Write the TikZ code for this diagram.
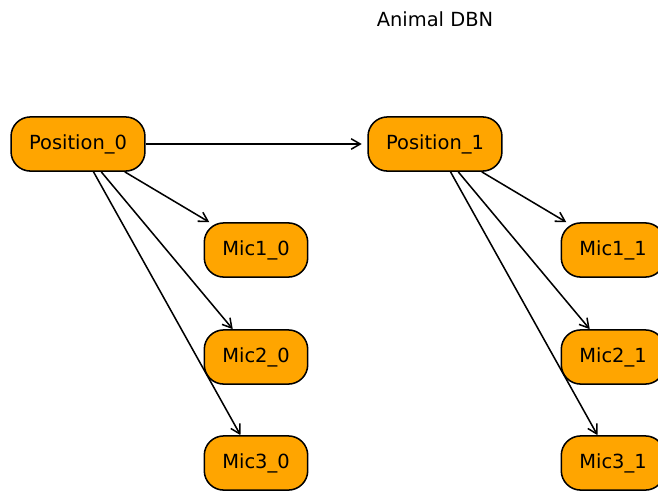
\documentclass[tikz,border=0pt]{standalone}
\usepackage{fontspec}
\setmainfont{DejaVu Sans}
\usepackage{xcolor}
\usetikzlibrary{arrows.meta, positioning}
\definecolor{nodeorange}{RGB}{255, 165, 0}
\tikzset{
    var/.style ={draw=black, line width=1.1pt, fill=nodeorange,
                 rounded corners=14pt, minimum height=39pt,
                 inner xsep=13pt, font=\fontsize{14}{16}\selectfont},
    ar/.style  ={-{Straight Barb[length=6.5pt, width=7.5pt]}, line width=1.1pt,
                 shorten >=0pt},
    ttl/.style ={font=\fontsize{14}{16}\selectfont}
}

\begin{document}
\begin{tikzpicture}[x=0.72pt, y=-0.72pt]
  \path[use as bounding box, clip] (0,0) rectangle (658,491);

  \node[ttl] (title) at (435,19) {Animal DBN};

  % slice 0
  \node[var] (pos0)  at (78,144)  {Position\_0};
  \node[var] (mic10) at (256,250) {Mic1\_0};
  \node[var] (mic20) at (256,357) {Mic2\_0};
  \node[var] (mic30) at (256,463) {Mic3\_0};

  % slice 1
  \node[var] (pos1)  at (435,144) {Position\_1};
  \node[var] (mic11) at (613,250) {Mic1\_1};
  \node[var] (mic21) at (613,357) {Mic2\_1};
  \node[var] (mic31) at (613,463) {Mic3\_1};

  \draw[ar, shorten >=4pt] (pos0) -- (pos1);

  \foreach \t in {0,1}{
    \draw[ar] (pos\t) -- (mic1\t);
    \draw[ar] (pos\t) -- (mic2\t);
    \draw[ar] (pos\t) -- (mic3\t);
  }
\end{tikzpicture}
\end{document}
